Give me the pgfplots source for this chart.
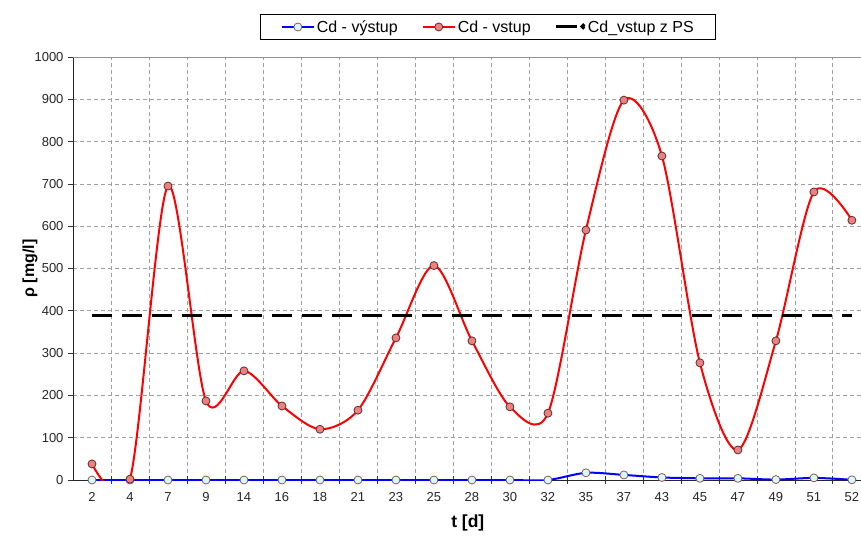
\documentclass[border=0pt]{standalone}
\usepackage{pgfplots}
\usepackage{pgfplotstable}
\pgfplotsset{compat=1.18}
\usepackage{fontspec}
\setmainfont{Liberation Sans}

\definecolor{gridgray}{HTML}{A0A0A0}
\definecolor{redfill}{HTML}{F08080}
\definecolor{rededge}{HTML}{5A3030}
\definecolor{bluefill}{HTML}{CCFFFF}
\definecolor{blueedge}{HTML}{A05050}

\pgfplotsset{
  markedlegend/.style={legend image code/.code={%
    \draw[mark repeat=2, mark phase=2, ##1] plot coordinates {(0pt,0pt) (16pt,0pt) (32pt,0pt)};}},
  barlegend/.style={legend image code/.code={%
    \draw[black, solid, line width=3pt] (0pt,0pt) -- (21pt,0pt);
    \fill[black] (27pt,0.5pt) circle (1.2pt);}},
}

% sampling days (index, day), inflow and outflow Cd concentration
\pgfplotstableread{
idx  vstup  vystup
0    38     0
1    2      0
2    695    0
3    187    0
4    258    0
5    175    0
6    120    0
7    165    0
8    336    0
9    507    0
10   329    0
11   173    0
12   158    0
13   591    17
14   898    12
15   766    6
16   277    4
17   71     4
18   329    1
19   681    5
20   614    0.5
}\cddata

\begin{document}
\begin{tikzpicture}[x=1pt,y=1pt]
\useasboundingbox (0,0) rectangle (861,539);
\begin{axis}[
  at={(73pt,59pt)}, anchor=south west,
  scale only axis, width=788pt, height=423pt,
  xmin=-0.5, xmax=20.24, ymin=0, ymax=1000,
  axis lines=left, axis line style={-, line width=0.9pt, black!85},
  xtick={0,...,20},
  xticklabels={2,4,7,9,14,16,18,21,23,25,28,30,32,35,37,43,45,47,49,51,52},
  minor xtick={0.5,1.5,...,19.5},
  major x tick style={draw=none},
  minor x tick style={line width=0.8pt, black!80, yshift=4pt},
  minor tick length=8pt,
  ytick={0,100,...,1000},
  major y tick style={line width=0.8pt, black!80},
  major tick length=5pt,
  tick align=outside,
  ymajorgrids, xminorgrids,
  major grid style={gridgray, line width=0.8pt, dash pattern=on 4pt off 3pt},
  minor grid style={gridgray, line width=0.8pt, dash pattern=on 4pt off 3pt},
  /pgf/number format/assume math mode=true,
  /pgf/number format/1000 sep={},
  ticklabel style={font=\fontsize{13}{15}\selectfont, text=black!85},
  xticklabel style={yshift=-4pt},
  yticklabel style={xshift=-1pt},
  xlabel={t [d]}, ylabel={ρ [mg/l]},
  xlabel style={font=\fontsize{17.5}{19}\selectfont\bfseries, at={(axis description cs:0.501,-0.1017)}, anchor=center},
  ylabel style={font=\fontsize{16}{18}\selectfont\bfseries, at={(axis description cs:-0.0546,0.5)}, anchor=center},
  legend columns=3,
  legend style={at={(axis description cs:0.527,1.071)}, anchor=center,
    draw=black, line width=0.8pt, font=\fontsize{16}{18}\selectfont,
    inner xsep=20pt, inner ysep=3.5pt,
    /tikz/every even column/.append style={column sep=22pt}},
  legend cell align=left,
]
\draw[gridgray!90!black, line width=0.9pt] (rel axis cs:0,1) -- (rel axis cs:1,1);

\addplot[blue, line width=2pt, smooth, tension=0.5,
  mark=*, mark size=4pt, mark options={fill=bluefill, draw=blueedge, line width=0.8pt},
  markedlegend]
  table[x=idx, y=vystup] {\cddata};
\addlegendentry{Cd - výstup}

\addplot[red, line width=2pt, smooth, tension=0.5,
  mark=*, mark size=4pt, mark options={fill=redfill, draw=rededge, line width=0.8pt},
  markedlegend]
  table[x=idx, y=vstup] {\cddata};
\addlegendentry{Cd - vstup}

\addplot[black, line width=3pt, dash pattern=on 20pt off 10pt, barlegend]
  coordinates {(0,389) (20,389)};
\addlegendentry{Cd\_vstup z PS}
\end{axis}
\end{tikzpicture}
\end{document}
